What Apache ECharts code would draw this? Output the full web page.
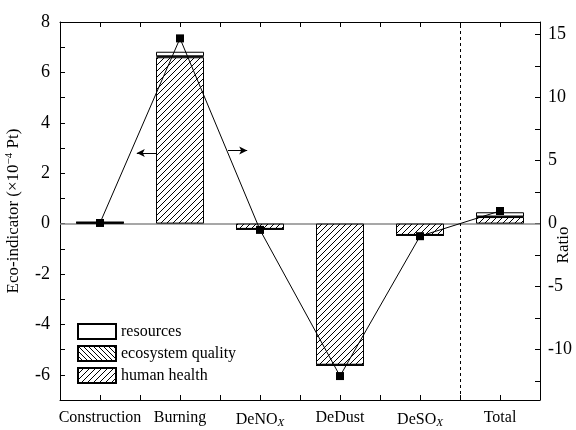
<!DOCTYPE html>
<html>
<head>
<meta charset="utf-8">
<script src="https://cdn.jsdelivr.net/npm/echarts@6/dist/echarts.min.js"></script>
<style>
  html, body { margin: 0; padding: 0; background: #fff; }
  #main { width: 576px; height: 430px; }
</style>
</head>
<body>
<div id="main"></div>
<script>
// categories along the bottom
var categories = ['Construction', 'Burning', 'DeNOx', 'DeDust', 'DeSOx', 'Total'];
// stacked bars, left axis (x10^-4 Pt)
var humanHealth = [0.03, 6.6, -0.21, -5.6, -0.45, 0.26];
var ecosystemQuality = [0.02, 0.04, -0.01, -0.02, -0.01, 0.02];
var resources = [0.01, 0.18, 0, 0, 0, 0.17];
// line, right axis
var ratio = [0.05, 14.7, -0.5, -12.1, -1.0, 1.0];
// tick labels
var leftTicks = [-6, -4, -2, 0, 2, 4, 6, 8];
var rightTicks = [-10, -5, 0, 5, 10, 15];
var rightMinorTicks = [-12.5, -10, -7.5, -5, -2.5, 0, 2.5, 5, 7.5, 10, 12.5, 15];

var font = 'Liberation Serif';

// hatch fill made on a small canvas
function hatch(size, forward) {
  var c = document.createElement('canvas');
  c.width = size; c.height = size;
  var g = c.getContext('2d');
  g.fillStyle = '#fff';
  g.fillRect(0, 0, size, size);
  g.strokeStyle = '#000';
  g.lineWidth = 1;
  g.beginPath();
  if (forward) {
    g.moveTo(-1, size + 1); g.lineTo(size + 1, -1);
    g.moveTo(-2, 2); g.lineTo(2, -2);
    g.moveTo(size - 2, size + 2); g.lineTo(size + 2, size - 2);
  } else {
    g.moveTo(-1, -1); g.lineTo(size + 1, size + 1);
    g.moveTo(-2, size - 2); g.lineTo(2, size + 2);
    g.moveTo(size - 2, -2); g.lineTo(size + 2, 2);
  }
  g.stroke();
  return c;
}

function pairs(arr) {
  return arr.map(function (v, i) { return [i, v]; });
}

var myChart = echarts.init(document.getElementById('main'));

// value x axes only carry the ticks (every half category)
var tickAxis = {
  type: 'value',
  min: -0.5,
  max: 5.5,
  interval: 0.5,
  splitLine: { show: false },
  axisLabel: { show: false },
  axisLine: { onZero: false, lineStyle: { color: '#000', width: 1 } },
  axisTick: { inside: true, length: 5, lineStyle: { color: '#000' } }
};

var blackLine = { color: '#000', width: 1, type: 'solid' };

myChart.setOption({
  animation: false,
  textStyle: { fontFamily: font, color: '#000' },
  grid: { left: 60, right: 36, top: 22, bottom: 30, containLabel: false, outerBoundsMode: 'none' },
  legend: {
    left: 77,
    top: 323,
    padding: 0,
    orient: 'vertical',
    icon: 'rect',
    itemWidth: 38,
    itemHeight: 15,
    itemGap: 5,
    data: ['resources', 'ecosystem quality', 'human health'],
    textStyle: { fontFamily: font, fontSize: 16, color: '#000' }
  },
  xAxis: [
    {
      type: 'category',
      data: categories,
      position: 'bottom',
      axisLine: { show: false, onZero: false },
      axisTick: { show: false },
      axisLabel: {
        margin: 10,
        fontSize: 16,
        color: '#000',
        fontFamily: font,
        interval: 0,
        formatter: function (name) {
          return name.replace(/x$/, '{sub|X}');
        },
        rich: {
          sub: { fontSize: 11, fontStyle: 'italic', fontFamily: font, verticalAlign: 'bottom', padding: [8, 0, 0, 0] }
        }
      }
    },
    Object.assign({}, tickAxis, { position: 'bottom' }),
    Object.assign({}, tickAxis, { position: 'top' })
  ],
  yAxis: [
    {
      type: 'value',
      min: -7,
      max: 8,
      interval: 1,
      splitLine: { show: false },
      axisLine: { show: true, onZero: false, lineStyle: { color: '#000' } },
      axisTick: { inside: true, length: 5, lineStyle: { color: '#000' } },
      axisLabel: {
        fontSize: 18,
        color: '#000',
        fontFamily: font,
        margin: 10,
        formatter: function (v) {
          return leftTicks.indexOf(v) >= 0 ? String(v) : '';
        }
      },
      name: 'Eco-indicator (×10{sup|−4} Pt)',
      nameLocation: 'middle',
      nameGap: 37,
      nameRotate: 90,
      nameTextStyle: {
        fontSize: 17,
        fontFamily: font,
        color: '#000',
        rich: { sup: { fontSize: 11, fontFamily: font, verticalAlign: 'top', padding: [0, 0, 8, 0] } }
      }
    },
    {
      type: 'value',
      min: -14,
      max: 16,
      position: 'right',
      splitLine: { show: false },
      axisLine: { show: true, onZero: false, lineStyle: { color: '#000' } },
      axisTick: { inside: true, length: 5, customValues: rightMinorTicks, lineStyle: { color: '#000' } },
      axisLabel: {
        fontSize: 18,
        color: '#000',
        fontFamily: font,
        margin: 8,
        customValues: rightTicks
      }
    }
  ],
  graphic: [
    {
      type: 'text',
      x: 564,
      y: 245,
      rotation: Math.PI / 2,
      style: {
        text: 'Ratio',
        fontFamily: font,
        fontSize: 17,
        fill: '#000',
        align: 'center',
        verticalAlign: 'middle'
      }
    }
  ],
  series: [
    {
      name: 'human health',
      type: 'bar',
      stack: 'eco',
      barWidth: 48,
      data: humanHealth,
      itemStyle: {
        color: { image: hatch(6, true), repeat: 'repeat' },
        borderColor: '#000',
        borderWidth: 1
      }
    },
    {
      name: 'ecosystem quality',
      type: 'bar',
      stack: 'eco',
      barWidth: 48,
      data: ecosystemQuality,
      itemStyle: {
        color: { image: hatch(5, false), repeat: 'repeat' },
        borderColor: '#000',
        borderWidth: 1
      }
    },
    {
      name: 'resources',
      type: 'bar',
      stack: 'eco',
      barWidth: 48,
      data: resources,
      itemStyle: { color: '#fff', borderColor: '#000', borderWidth: 1 }
    },
    {
      name: 'ratio',
      type: 'line',
      xAxisIndex: 1,
      yAxisIndex: 1,
      data: pairs(ratio),
      symbol: 'rect',
      symbolSize: 8,
      z: 5,
      lineStyle: blackLine,
      itemStyle: { color: '#000' },
      // zero line, Total divider and the two axis pointers (right-axis coords)
      markLine: {
        silent: true,
        animation: false,
        z: 1,
        label: { show: false },
        symbol: 'none',
        lineStyle: { color: '#8a8a8a', width: 1.5, type: 'solid' },
        data: [
          [{ coord: [-0.5, 0] }, { coord: [5.5, 0] }],
          [{ coord: [4.5, -14], lineStyle: { type: [3, 3], color: '#000', width: 1 } }, { coord: [4.5, 16] }],
          [{ coord: [0.7, 5.6], lineStyle: blackLine }, { coord: [0.46, 5.6], symbol: 'arrow', symbolSize: [6, 8] }],
          [{ coord: [1.6, 5.8], lineStyle: blackLine }, { coord: [1.84, 5.8], symbol: 'arrow', symbolSize: [6, 8] }]
        ]
      }
    }
  ]
});
</script>
</body>
</html>
